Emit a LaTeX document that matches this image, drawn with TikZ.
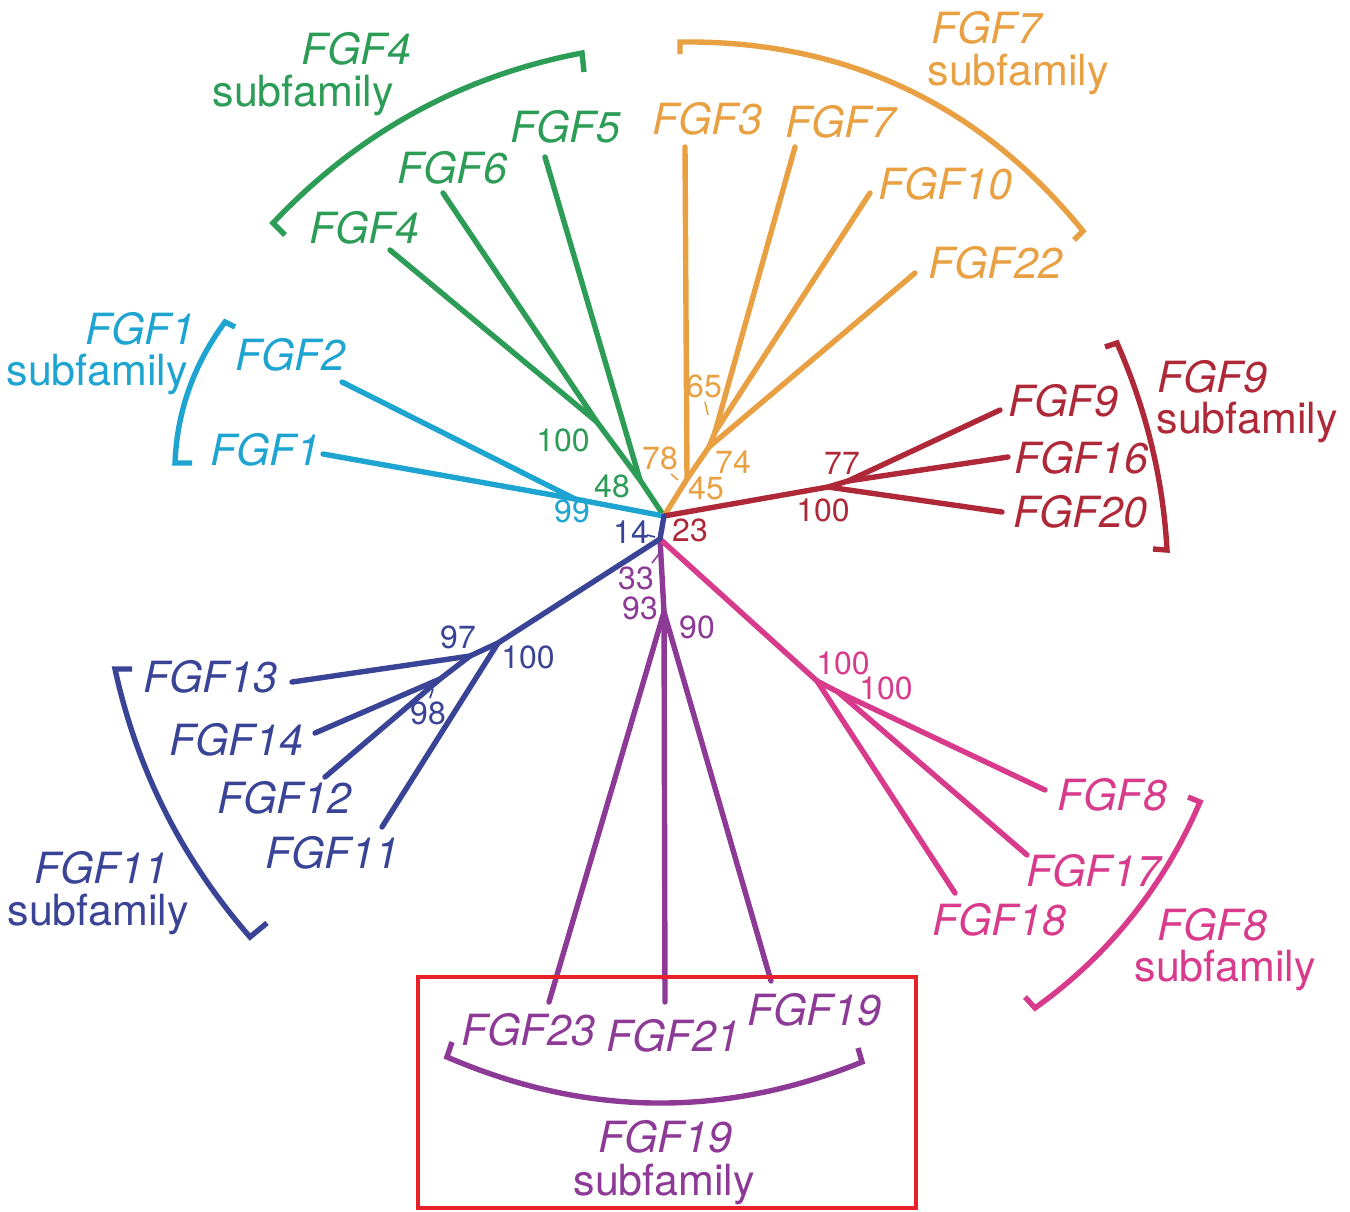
\documentclass[tikz,border=0pt]{standalone}
\usepackage{fontspec}
\setmainfont{TeX Gyre Heros}
\definecolor{cgreen}{RGB}{44,156,86}
\definecolor{corange}{RGB}{232,160,66}
\definecolor{cblue}{RGB}{30,164,208}
\definecolor{cred}{RGB}{174,40,56}
\definecolor{cpink}{RGB}{216,58,140}
\definecolor{cpurple}{RGB}{140,58,150}
\definecolor{cnavy}{RGB}{58,68,150}
\definecolor{cbox}{RGB}{232,32,40}
\tikzset{
  branch/.style={line width=2.7pt, line cap=round, line join=round},
  brk/.style={line width=2.7pt, line join=miter},
  gene/.style={font=\fontsize{21.5}{24}\selectfont\itshape, inner sep=0pt},
  sub/.style={font=\fontsize{21.5}{24}\selectfont, inner sep=0pt},
  boot/.style={font=\fontsize{16}{18}\selectfont, inner sep=0pt},
  pointer/.style={line width=0.8pt},
}
\begin{document}
\begin{tikzpicture}[x=0.5pt,y=-0.5pt]
\useasboundingbox (0,0) rectangle (1350,1211);

% ---------- internal nodes of the tree ----------
\coordinate (R)  at (664,516);
\coordinate (G1) at (640,480);
\coordinate (G2) at (597,422);
\coordinate (B1) at (575,499);
\coordinate (O0) at (687,479);
\coordinate (O1) at (709,447);
\coordinate (O2) at (715,432);
\coordinate (D1) at (828,487);
\coordinate (D2) at (848,481);
\coordinate (N1) at (660,539);
\coordinate (N2) at (498,643);
\coordinate (N3) at (470,656);
\coordinate (N4) at (440,679);
\coordinate (P1) at (664,612);
\coordinate (K1) at (817,681);
\coordinate (K2) at (838,692);

% ---------- leaf tips ----------
\coordinate (tFGF4)  at (390,250);
\coordinate (tFGF6)  at (443,193);
\coordinate (tFGF5)  at (545,157);
\coordinate (tFGF3)  at (685,147);
\coordinate (tFGF7)  at (795,147);
\coordinate (tFGF10) at (870,193);
\coordinate (tFGF22) at (915,273);
\coordinate (tFGF2)  at (342,382);
\coordinate (tFGF1)  at (323,454);
\coordinate (tFGF9)  at (1000,410);
\coordinate (tFGF16) at (1008,457);
\coordinate (tFGF20) at (1002,512);
\coordinate (tFGF8)  at (1045,790);
\coordinate (tFGF17) at (1027,855);
\coordinate (tFGF18) at (955,893);
\coordinate (tFGF13) at (292,682);
\coordinate (tFGF14) at (315,733);
\coordinate (tFGF12) at (325,777);
\coordinate (tFGF11) at (382,827);
\coordinate (tFGF23) at (549,1002);
\coordinate (tFGF21) at (665,1002);
\coordinate (tFGF19) at (771,981);

% ---------- branches ----------
\begin{scope}[branch, cgreen]
  \draw (tFGF5) -- (G1) -- (R);
  \draw (tFGF6) -- (G2) -- (G1);
  \draw (tFGF4) -- (G2);
\end{scope}
\begin{scope}[branch, cblue]
  \draw (tFGF1) -- (B1) -- (R);
  \draw (tFGF2) -- (B1);
\end{scope}
\begin{scope}[branch, corange]
  \draw (tFGF3) -- (O0) -- (R);
  \draw (tFGF22) -- (O1) -- (O0);
  \draw (tFGF7) -- (O2) -- (O1);
  \draw (tFGF10) -- (O2);
\end{scope}
\begin{scope}[branch, cred]
  \draw (R) -- (D1) -- (tFGF20);
  \draw (D1) -- (D2) -- (tFGF9);
  \draw (D2) -- (tFGF16);
\end{scope}
\begin{scope}[branch, cpurple]
  \draw (N1) -- (P1);
  \draw (P1) -- (tFGF23);
  \draw (P1) -- (tFGF21);
  \draw (P1) -- (tFGF19);
\end{scope}
\begin{scope}[branch, cpink]
  \draw (N1) -- (K1) -- (tFGF18);
  \draw (K1) -- (K2) -- (tFGF8);
  \draw (K2) -- (tFGF17);
\end{scope}
\begin{scope}[branch, cnavy]
  \draw (R) -- (N1) -- (N2) -- (tFGF11);
  \draw (N2) -- (N3) -- (tFGF13);
  \draw (N3) -- (N4) -- (tFGF14);
  \draw (N4) -- (tFGF12);
\end{scope}

% ---------- subfamily brackets ----------
\draw[brk, cgreen] (285,235) -- (273,223) .. controls (358,133) and (461,76) .. (582,53) -- (584,72);
\draw[brk, corange] (680,54) -- (680,42) .. controls (844,40) and (979,103) .. (1083,231) -- (1074,240);
\draw[brk, cred] (1105,347) -- (1117,343) .. controls (1146,409) and (1163,478) .. (1167,550) -- (1153,549);
\draw[brk, cpink] (1188,797) -- (1200,802) .. controls (1164,886) and (1109,955) .. (1035,1008) -- (1025,997);
\draw[brk, cnavy] (132,669) -- (115,669) .. controls (137,770) and (182,859) .. (250,937) -- (267,923);
\draw[brk, cpurple] (452,1042) -- (447,1057) .. controls (586,1117) and (724,1118) .. (862,1062) -- (858,1048);
\draw[brk, cblue] (235,327) -- (225,322) .. controls (194,364) and (177,411) .. (175,463) -- (192,463);

% ---------- leaf labels ----------
\node[gene, cgreen] (lFGF5) at (565,127) {FGF5};
\node[gene, cgreen] (lFGF6) at (452,168) {FGF6};
\node[gene, cgreen] (lFGF4) at (364,228) {FGF4};
\node[gene, corange] (lFGF3) at (707,119) {FGF3};
\node[gene, corange] (lFGF7) at (840,122) {FGF7};
\node[gene, corange] (lFGF10) at (945,184) {FGF10};
\node[gene, corange] (lFGF22) at (995,263) {FGF22};
\node[gene, cblue] (lFGF2) at (290,355) {FGF2};
\node[gene, cblue] (lFGF1) at (265,450) {FGF1};
\node[gene, cred] (lFGF9) at (1063,401) {FGF9};
\node[gene, cred] (lFGF16) at (1081,458) {FGF16};
\node[gene, cred] (lFGF20) at (1080,512) {FGF20};
\node[gene, cnavy] (lFGF13) at (210,677) {FGF13};
\node[gene, cnavy] (lFGF14) at (236,740) {FGF14};
\node[gene, cnavy] (lFGF12) at (284,798) {FGF12};
\node[gene, cnavy] (lFGF11) at (332,853) {FGF11};
\node[gene, cpink] (lFGF8) at (1112,795) {FGF8};
\node[gene, cpink] (lFGF17) at (1093,871) {FGF17};
\node[gene, cpink] (lFGF18) at (999,920) {FGF18};
\node[gene, cpurple] (lFGF23) at (528,1030) {FGF23};
\node[gene, cpurple] (lFGF21) at (673,1036) {FGF21};
\node[gene, cpurple] (lFGF19) at (814,1010) {FGF19};

% ---------- subfamily titles ----------
\node[gene, cgreen] (sFGF4) at (356,49) {FGF4};
\node[sub, cgreen] (sFGF4b) at (303,95) {subfamily};
\node[gene, corange] (sFGF7) at (986,28) {FGF7};
\node[sub, corange] (sFGF7b) at (1018,74) {subfamily};
\node[gene, cblue] (sFGF1) at (140,329) {FGF1};
\node[sub, cblue] (sFGF1b) at (97,374) {subfamily};
\node[gene, cred] (sFGF9) at (1212,377) {FGF9};
\node[sub, cred] (sFGF9b) at (1247,422) {subfamily};
\node[gene, cnavy] (sFGF11) at (101,868) {FGF11};
\node[sub, cnavy] (sFGF11b) at (98,914) {subfamily};
\node[gene, cpink] (sFGF8) at (1212,925) {FGF8};
\node[sub, cpink] (sFGF8b) at (1225,970) {subfamily};
\node[gene, cpurple] (sFGF19) at (665,1137) {FGF19};
\node[sub, cpurple] (sFGF19b) at (664,1184) {subfamily};

% ---------- bootstrap values ----------
\node[boot, cgreen] (b100g) at (563,440) {100};
\node[boot, cgreen] (b48) at (612,486) {48};
\node[boot, cblue] (b99) at (572,511) {99};
\node[boot, corange] (b78) at (660,458) {78};
\node[boot, corange] (b65) at (704,386) {65};
\node[boot, corange] (b74) at (733,462) {74};
\node[boot, corange] (b45) at (706,488) {45};
\node[boot, cred] (b77) at (842,463) {77};
\node[boot, cred] (b100r) at (823,510) {100};
\node[boot, cred] (b23) at (690,530) {23};
\node[boot, cnavy] (b14) at (631,532) {14};
\node[boot, cpurple] (b33) at (636,578) {33};
\node[boot, cpurple] (b93) at (640,608) {93};
\node[boot, cpurple] (b90) at (697,627) {90};
\node[boot, cnavy] (b97) at (458,637) {97};
\node[boot, cnavy] (b100n) at (528,657) {100};
\node[boot, cnavy] (b98) at (428,713) {98};
\node[boot, cpink] (b100p) at (843,663) {100};
\node[boot, cpink] (b100q) at (886,688) {100};

% short leader lines from values to their nodes
\draw[pointer, corange] (671,474) -- (678,480);
\draw[pointer, corange] (705,402) -- (708,415);
\draw[pointer, cnavy] (647,535) -- (655,537);
\draw[pointer, cpurple] (652,563) -- (659,554);
\draw[pointer, cnavy] (430,698) -- (433,689);

% ---------- highlight frame ----------
\draw[line width=2pt, cbox] (418,977) rectangle (916,1208);
\end{tikzpicture}
\end{document}
